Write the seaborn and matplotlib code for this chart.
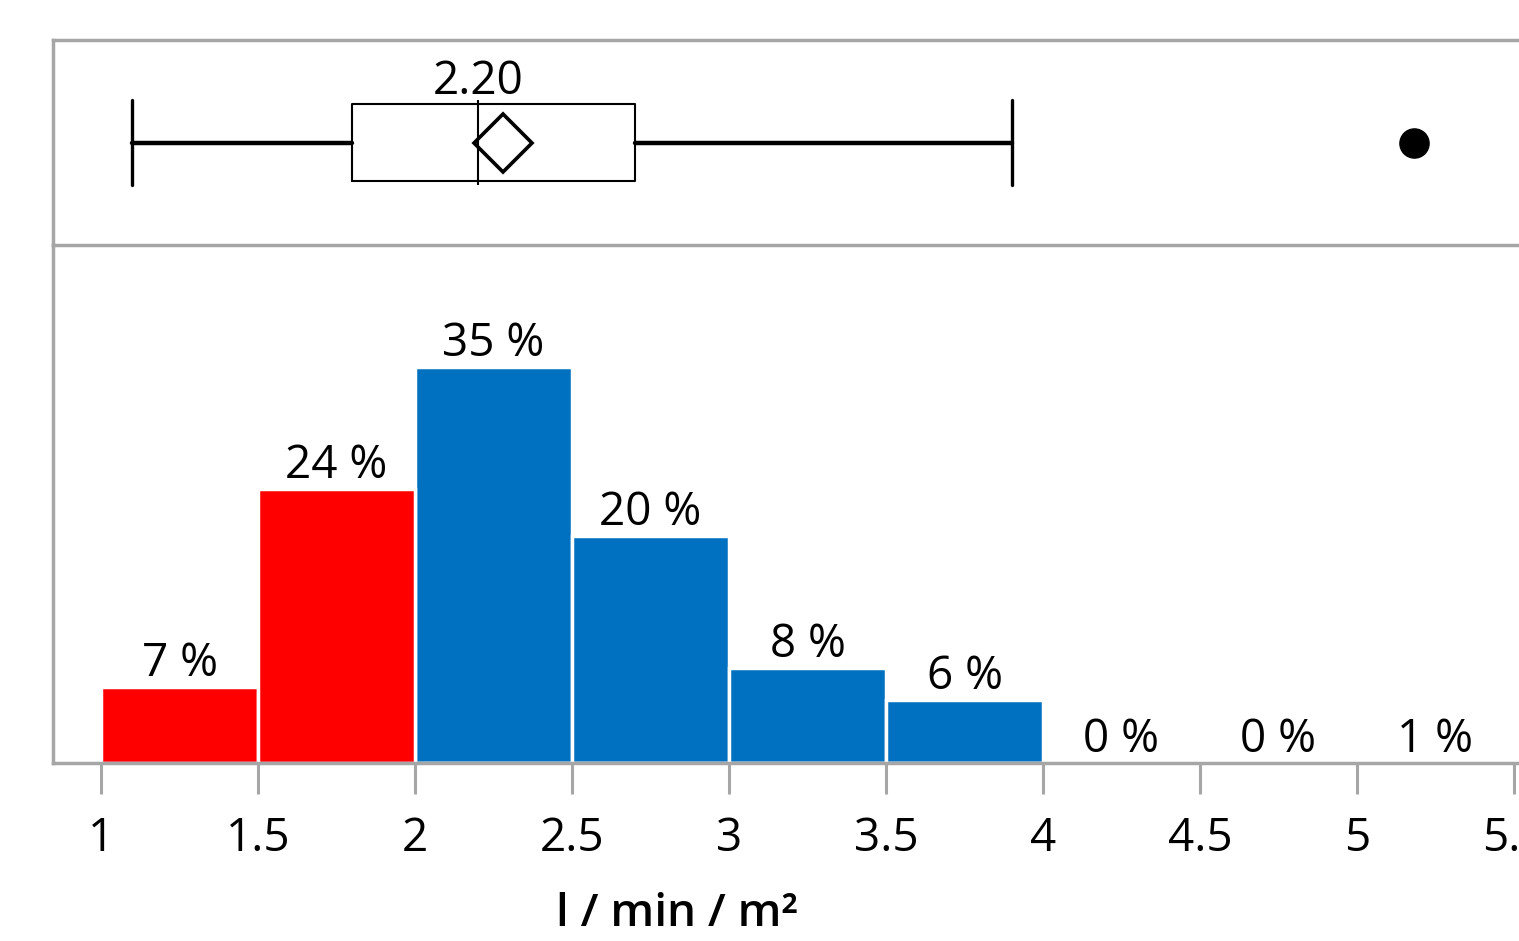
import numpy as np
import pandas as pd
import matplotlib.pyplot as plt
import seaborn as sns

# histogram bins (l / min / m²) and share per bin in %
bin_edges = [1.0, 1.5, 2.0, 2.5, 3.0, 3.5, 4.0, 4.5, 5.0, 5.5]
bin_pct = [6.7, 24.2, 35.0, 20.1, 8.4, 5.6, 0.0, 0.0, 0.0]
bin_labels = ["7 %", "24 %", "35 %", "20 %", "8 %", "6 %", "0 %", "0 %", "1 %"]
bin_group = ["low", "low", "ok", "ok", "ok", "ok", "ok", "ok", "ok"]

# box plot summary
box_whislo = 1.10
box_q1 = 1.80
box_median = 2.20
box_mean = 2.28
box_q3 = 2.70
box_whishi = 3.90
box_outliers = [5.18]

GREY = "#a6a6a6"
FS = 33
sns.set_theme(style="white")
plt.rcParams["font.family"] = ["Open Sans", "DejaVu Sans"]
plt.rcParams["text.color"] = "black"
plt.rcParams["axes.labelcolor"] = "black"

fig = plt.figure(figsize=(15.19, 9.41), dpi=100)
ax_box = fig.add_axes([0.0349, 0.7396, 0.9651, 0.2179])
ax_hist = fig.add_axes([0.0349, 0.1892, 0.9651, 0.5504], sharex=ax_box)
ax_hist.patch.set_alpha(0)

xlim = (0.847, 5.516)

# --- box plot ---
stats = [{
    "whislo": box_whislo, "q1": box_q1, "med": box_median,
    "q3": box_q3, "whishi": box_whishi, "mean": box_mean,
    "fliers": box_outliers,
}]
ax_box.bxp(
    stats, positions=[0.5], widths=0.38, capwidths=0.41, vert=False,
    showmeans=True, patch_artist=False,
    boxprops=dict(color="black", linewidth=1.5),
    whiskerprops=dict(color="black", linewidth=3.2),
    capprops=dict(color="black", linewidth=2.4),
    medianprops=dict(linewidth=0),
    meanprops=dict(marker="D", markersize=30, markerfacecolor="none",
                   markeredgecolor="black", markeredgewidth=2.6),
    flierprops=dict(marker="o", markersize=21, markerfacecolor="black",
                    markeredgecolor="black"),
)
ax_box.vlines(box_median, 0.5 - 0.205, 0.5 + 0.205, color="black", linewidth=1.5)
ax_box.text(box_median, 0.795, f"{box_median:.2f}", ha="center", va="center",
            fontsize=FS)
ax_box.set_ylim(0, 1)
ax_box.set_xlim(*xlim)
ax_box.set_yticks([])
ax_box.tick_params(axis="x", which="both", bottom=False, labelbottom=False)
for side in ["top", "left", "bottom", "right"]:
    ax_box.spines[side].set_color(GREY)
    ax_box.spines[side].set_linewidth(2.5)
ax_box.spines["right"].set_visible(False)

# --- histogram ---
centers = [(a + b) / 2 for a, b in zip(bin_edges[:-1], bin_edges[1:])]
df = pd.DataFrame({"x": centers, "pct": bin_pct, "group": bin_group})
sns.histplot(
    data=df, x="x", weights="pct", bins=bin_edges, hue="group",
    palette={"low": "#ff0000", "ok": "#0070c0"}, multiple="layer",
    alpha=1, edgecolor="white", linewidth=2.5, legend=False, ax=ax_hist,
)
for cx, h, lab in zip(centers, bin_pct, bin_labels):
    ax_hist.annotate(lab, (cx, h), xytext=(0, 0), textcoords="offset points",
                     ha="center", va="bottom", fontsize=FS)

ax_hist.set_ylim(0, 45.8)
ax_hist.set_xlim(*xlim)
ax_hist.set_yticks([])
ax_hist.set_ylabel("")
ax_hist.set_xticks([1, 1.5, 2, 2.5, 3, 3.5, 4, 4.5, 5, 5.5])
ax_hist.set_xticklabels(["1", "1.5", "2", "2.5", "3", "3.5", "4", "4.5", "5", "5.5"])
ax_hist.tick_params(axis="x", bottom=True, direction="out", length=22,
                    width=2.2, color=GREY, labelcolor="black", pad=16,
                    labelsize=FS)
ax_hist.set_xlabel("l / min / m²", fontsize=FS, fontweight="semibold")
ax_hist.xaxis.set_label_coords(0.426, -0.25)
for side in ["top", "right"]:
    ax_hist.spines[side].set_visible(False)
for side in ["left", "bottom"]:
    ax_hist.spines[side].set_color(GREY)
    ax_hist.spines[side].set_linewidth(2.5)

fig.savefig("out.png", dpi=100)
